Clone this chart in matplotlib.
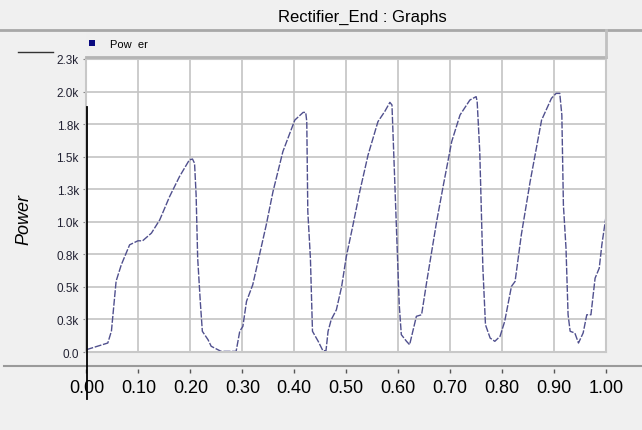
import matplotlib
matplotlib.use('Agg')
import matplotlib.pyplot as plt
from matplotlib.lines import Line2D
from matplotlib.patches import Rectangle

# time (s) and power
t = [0.000, 0.041, 0.048, 0.057, 0.067, 0.083, 0.099, 0.108, 0.125, 0.141,
     0.160, 0.179, 0.198, 0.204, 0.208, 0.211, 0.214, 0.219, 0.223, 0.234,
     0.240, 0.259, 0.288, 0.295, 0.301, 0.308, 0.320, 0.346, 0.359, 0.378,
     0.401, 0.417, 0.422, 0.424, 0.426, 0.431, 0.435, 0.446, 0.455, 0.461,
     0.465, 0.471, 0.481, 0.491, 0.500, 0.513, 0.526, 0.542, 0.561, 0.574,
     0.584, 0.588, 0.592, 0.598, 0.602, 0.606, 0.616, 0.622, 0.635, 0.645,
     0.655, 0.674, 0.687, 0.703, 0.719, 0.738, 0.750, 0.752, 0.757, 0.763,
     0.768, 0.777, 0.786, 0.796, 0.805, 0.818, 0.825, 0.837, 0.854, 0.876,
     0.895, 0.904, 0.911, 0.915, 0.918, 0.923, 0.927, 0.931, 0.940, 0.947,
     0.956, 0.963, 0.971, 0.979, 0.987, 0.992, 1.000]
power = [18, 69, 161, 544, 670, 823, 854, 854, 913, 1015,
         1194, 1347, 1475, 1482, 1449, 1206, 721, 389, 159, 94,
         44, 5, 5, 159, 197, 389, 516, 976, 1232, 1539,
         1781, 1840, 1840, 1769, 1079, 721, 159, 82, 10, 10,
         159, 248, 324, 500, 730, 976, 1232, 1513, 1769, 1846,
         1917, 1897, 1462, 798, 363, 133, 82, 56, 274, 286,
         542, 1002, 1283, 1616, 1820, 1935, 1961, 1923, 1539, 644,
         209, 107, 82, 120, 235, 504, 542, 900, 1309, 1781,
         1948, 1986, 1986, 1820, 1129, 798, 286, 159, 146, 69,
         146, 286, 286, 567, 644, 823, 1041]

y_ticks = [0, 250, 500, 750, 1000, 1250, 1500, 1750, 2000, 2250]
y_labels = ['0.0', '0.3k', '0.5k', '0.8k', '1.0k', '1.3k', '1.5k', '1.8k', '2.0k', '2.3k']
x_ticks = [0.0, 0.1, 0.2, 0.3, 0.4, 0.5, 0.6, 0.7, 0.8, 0.9, 1.0]
x_labels = ['0.00', '0.10', '0.20', '0.30', '0.40', '0.50', '0.60', '0.70', '0.80', '0.90', '1.00']

W, H = 642, 431
bg = '#f0f0f0'
plt.rcParams['font.family'] = ['Liberation Sans', 'DejaVu Sans']
narrow = ['Liberation Sans Narrow', 'Liberation Sans']

fig = plt.figure(figsize=(W / 100, H / 100), dpi=100, facecolor=bg)

def fx(px):
    return px / W

def fy(py):
    return 1 - py / H

# plot area
x0, x1, ytop, ybot = 86.5, 606, 60, 353
ax = fig.add_axes([fx(x0), fy(ybot), fx(x1 - x0), (ybot - ytop) / H])
ax.set_facecolor('white')
ax.plot(t, power, color='#50508e', lw=1.0, ls=(0, (5, 1.2)))
ax.set_xlim(0, 1)
ax.set_ylim(0, 2250)
ax.set_xticks(x_ticks)
ax.set_yticks(y_ticks)
ax.set_yticklabels(y_labels, family=narrow, fontsize=8.5, color='#222233')
ax.grid(True, color='#c4c4c4', lw=1.2)
ax.set_axisbelow(True)
ax.tick_params(axis='x', length=0, labelbottom=False)
ax.tick_params(axis='y', length=2.5, width=0.8, color='#888888', pad=3)
for s in ax.spines.values():
    s.set_color('#c8c8c8')
    s.set_linewidth(1.5)

# x axis drawn below the separator line
axx = fig.add_axes([fx(x0), fy(374), fx(x1 - x0), 4 / H])
axx.set_xlim(0, 1)
axx.set_xticks(x_ticks)
axx.set_xticklabels(x_labels, fontsize=13)
axx.set_yticks([])
axx.patch.set_alpha(0)
for s in axx.spines.values():
    s.set_visible(False)
axx.tick_params(axis='x', direction='in', length=3, width=1, color='#555555', pad=4.5)

# title and separators
fig.text(fx(362), fy(17), 'Rectifier_End : Graphs', fontsize=12, ha='center', va='center')
fig.add_artist(Line2D([0, 1], [fy(30.5), fy(30.5)], color='#a8a8a8', lw=2))
fig.add_artist(Line2D([fx(4), 1], [fy(367), fy(367)], color='#9a9a9a', lw=1.5))

# legend strip
fig.add_artist(Rectangle((fx(86), fy(57.5)), fx(606 - 86), 25 / H, facecolor='#efefef',
                         edgecolor='none'))
fig.add_artist(Line2D([fx(86), fx(606)], [fy(57.5), fy(57.5)], color='#b4b4b4', lw=2))
fig.add_artist(Line2D([fx(606), fx(606)], [fy(31), fy(57.5)], color='#c0c0c0', lw=2))
fig.add_artist(Rectangle((fx(89), fy(47)), 6 / W, 6 / H, facecolor='#0a0a80', edgecolor='none'))
fig.text(fx(110), fy(45), 'Pow  er', fontsize=8, va='center', family=narrow)
fig.add_artist(Line2D([fx(18), fx(53)], [fy(53), fy(53)], color='#333333', lw=1))

# y label
fig.text(fx(24), fy(220), 'Power', rotation=90, fontsize=13, style='italic',
         ha='center', va='center')

# cursor line
fig.add_artist(Line2D([fx(87), fx(87)], [fy(108), fy(400)], color='black', lw=1.3))

fig.savefig('out.png', dpi=100, facecolor=bg)
